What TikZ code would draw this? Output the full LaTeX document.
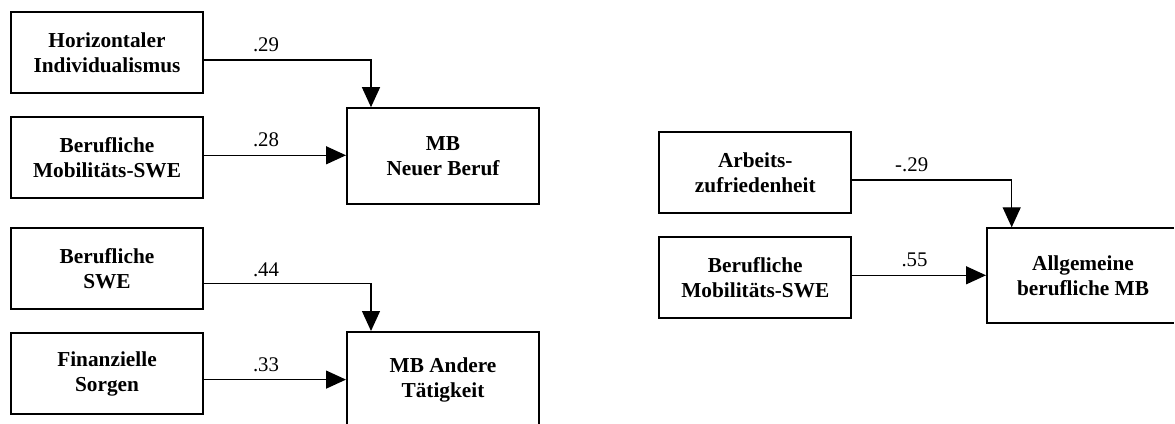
\documentclass[tikz,border=0pt]{standalone}
\usepackage{fontspec}
\setmainfont{Liberation Serif}
\usetikzlibrary{arrows.meta}

\begin{document}
\begin{tikzpicture}[x=1pt, y=-1pt,
  box/.style={draw=black, line width=2pt, inner sep=0pt, align=center,
    font=\fontsize{21.3}{25}\selectfont\bfseries},
  srcbox/.style={box, minimum width=192pt, minimum height=81pt},
  tgtbox/.style={box, minimum width=192pt, minimum height=96pt},
  conn/.style={line width=1.3pt, -{Triangle[width=18pt,length=20pt]}},
  lab/.style={anchor=base, inner sep=0pt, font=\fontsize{20.8}{24}\selectfont}]
\useasboundingbox (0,0) rectangle (1175,423);
\clip (0,0) rectangle (1175,423);

% predictor boxes (left column)
\node[srcbox] (hi)   at (107,52.5)  {Horizontaler\\Individualismus};
\node[srcbox] (bms1) at (107,157.8) {Berufliche\\Mobilitäts-SWE};
\node[srcbox] (swe)  at (107,268.6) {Berufliche\\SWE};
\node[srcbox] (fin)  at (107,373.6) {Finanzielle\\Sorgen};

% outcome boxes (left group)
\node[tgtbox] (neu) at (443,156.2) {MB\\Neuer Beruf};
\node[tgtbox] (and) at (443,380)   {MB Andere\\Tätigkeit};

% right group
\node[srcbox] (arb)  at (755.3,172.5) {Arbeits-\\zufriedenheit};
\node[srcbox] (bms2) at (755.3,277.5) {Berufliche\\Mobilitäts-SWE};
\node[tgtbox, minimum width=192pt, minimum height=95pt] (all) at (1083,275.8) {Allgemeine\\berufliche MB};
% the outcome box runs past the right margin
\fill[white] (1174,200) rectangle (1180,340);

% connector anchor points
\coordinate (p1) at ([yshift=-7.5pt]hi.east);
\coordinate (q1) at ([xshift=-72pt]neu.north);
\coordinate (p2) at ([yshift=2.5pt]bms1.east);
\coordinate (p3) at ([yshift=-14.7pt]swe.east);
\coordinate (q3) at ([xshift=-72pt]and.north);
\coordinate (p4) at ([yshift=-6pt]fin.east);
\coordinate (p5) at ([yshift=-7.5pt]arb.east);
\coordinate (q5) at ([xshift=-71.3pt]all.north);
\coordinate (p6) at ([yshift=2.2pt]bms2.east);

% paths
\draw[conn] (p1) -| (q1);
\draw[conn] (p2) -- (p2 -| neu.west);
\draw[conn] (p3) -| (q3);
\draw[conn] (p4) -- (p4 -| and.west);
\draw[conn] (p5) -| (q5);
\draw[conn] (p6) -- (p6 -| all.west);

% path coefficients
\node[lab] (c1) at (266,51)    {.29};
\node[lab] (c2) at (266,146.7) {.28};
\node[lab] (c3) at (266,276.7) {.44};
\node[lab] (c4) at (266,371.7) {.33};
\node[lab] (c5) at (911.7,171) {-.29};
\node[lab] (c6) at (914.5,266.7) {.55};
\end{tikzpicture}
\end{document}
